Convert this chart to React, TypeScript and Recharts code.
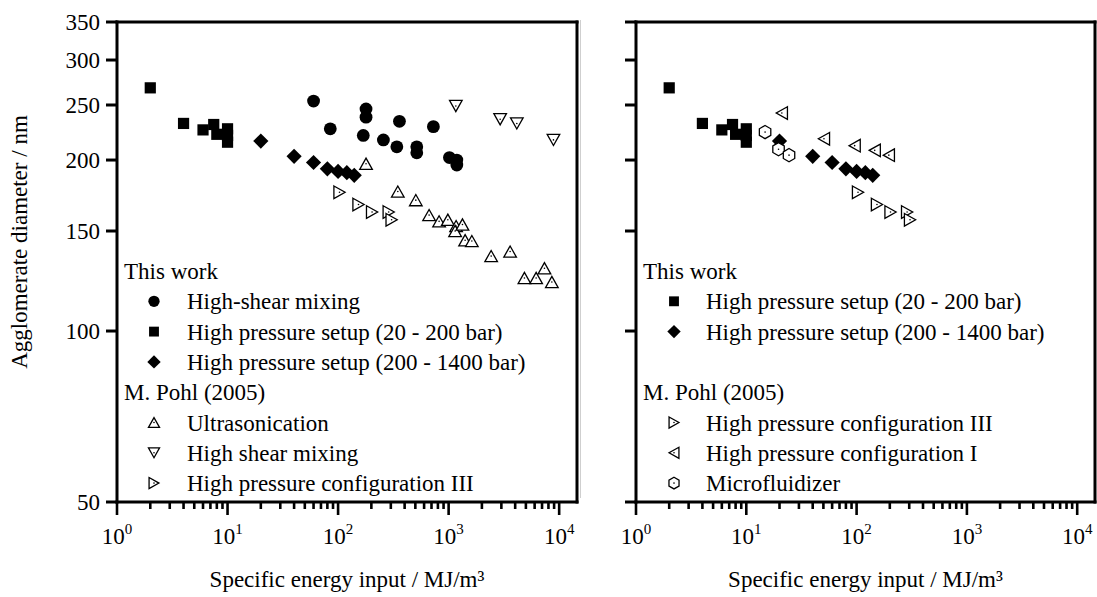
import React from 'react';
import { ScatterChart, Scatter, XAxis, YAxis, Legend, ReferenceLine } from 'recharts';

const FONT = 'Liberation Serif, Tinos, DejaVu Serif, serif';
const textStyle = { fontFamily: FONT };

// ---------------- Data ----------------
// This work
const shearMixX = [60, 85, 179, 179, 169, 257, 359, 340, 515, 515, 728, 1017, 1186, 1186];
const shearMixY = [254, 227, 246, 238, 221, 217, 234, 211, 211, 206, 229, 202, 200, 196];
const hpLowX = [2, 4, 6, 7.5, 8, 10, 10, 10];
const hpLowY = [268, 232, 226, 231, 222, 227, 221, 215];
const hpHighX = [20, 40, 60, 80, 100, 120, 140];
const hpHighY = [216, 203, 198, 193, 191, 190, 188];
// M. Pohl (2005)
const ultraX = [179, 347, 505, 666, 820, 984, 1169, 1145, 1334, 1410, 1622, 2425, 3600, 4850, 6190, 7360, 8590];
const ultraY = [197, 176, 170, 160, 156, 157, 153, 150, 154, 144.5, 144, 135.5, 138, 124, 124, 129, 122];
const pohlShearX = [1162, 2925, 4140, 8880];
const pohlShearY = [249, 236, 232, 217];
const conf3X = [103, 153, 203, 287, 305];
const conf3Y = [175.5, 167, 162, 162, 157];
const conf1X = [21, 50.6, 96, 146, 196];
const conf1Y = [242, 218, 212, 208, 204];
const microX = [14.8, 19.6, 24.4];
const microY = [224, 209, 204];

// ---------------- Axis ticks ----------------
const xTicks = [
  1, 2, 3, 4, 5, 6, 7, 8, 9,
  10, 20, 30, 40, 50, 60, 70, 80, 90,
  100, 200, 300, 400, 500, 600, 700, 800, 900,
  1000, 2000, 3000, 4000, 5000, 6000, 7000, 8000, 9000,
  10000,
];
const xMajorTicks = [1, 10, 100, 1000, 10000];
const xMajorBase = ['10', '10', '10', '10', '10'];
const xMajorExp = ['0', '1', '2', '3', '4'];
const xDomain = [1, 14500];
const yTicks = [50, 100, 150, 200, 250, 300, 350];
const yDomain = [50, 350];

// ---------------- Legend entries ----------------
const leftLegendLabels = [
  'This work',
  'High-shear mixing',
  'High pressure setup (20 - 200 bar)',
  'High pressure setup (200 - 1400 bar)',
  'M. Pohl (2005)',
  'Ultrasonication',
  'High shear mixing',
  'High pressure configuration III',
];
const leftLegendKinds = ['header', 'circle', 'square', 'diamond', 'header', 'up', 'down', 'right'];
const rightLegendLabels = [
  'This work',
  'High pressure setup (20 - 200 bar)',
  'High pressure setup (200 - 1400 bar)',
  '',
  'M. Pohl (2005)',
  'High pressure configuration III',
  'High pressure configuration I',
  'Microfluidizer',
];
const rightLegendKinds = ['header', 'square', 'diamond', 'blank', 'header', 'right', 'left', 'hex'];

const xTitle = 'Specific energy input / MJ/m\u00B3';
const yTitle = 'Agglomerate diameter / nm';

const pts = (xs: number[], ys: number[]) => xs.map((x, i) => ({ x, y: ys[i] }));

// ---------------- Markers ----------------
const Marker = ({ kind, cx, cy, s = 1 }: { kind: string; cx: number; cy: number; s?: number }) => {
  const open = { fill: '#fff', stroke: '#000', strokeWidth: 1.3, strokeLinejoin: 'miter' as const };
  const dot = <circle cx={cx} cy={cy} r={0.8} fill="#000" />;
  const a = 6.3 * s;
  const h = 5.6 * s;
  switch (kind) {
    case 'circle':
      return <circle cx={cx} cy={cy} r={6.4 * s} fill="#000" />;
    case 'square':
      return <rect x={cx - 5.6 * s} y={cy - 5.6 * s} width={11.2 * s} height={11.2 * s} fill="#000" />;
    case 'diamond': {
      const d = 7.6 * s;
      return <polygon points={`${cx},${cy - d} ${cx + d},${cy} ${cx},${cy + d} ${cx - d},${cy}`} fill="#000" />;
    }
    case 'up':
      return (
        <g>
          <polygon points={`${cx},${cy - h} ${cx + a},${cy + h} ${cx - a},${cy + h}`} {...open} />
          {dot}
        </g>
      );
    case 'down':
      return (
        <g>
          <polygon points={`${cx - a},${cy - h} ${cx + a},${cy - h} ${cx},${cy + h}`} {...open} />
          {dot}
        </g>
      );
    case 'right':
      return (
        <g>
          <polygon points={`${cx - h},${cy - a} ${cx + h},${cy} ${cx - h},${cy + a}`} {...open} />
          {dot}
        </g>
      );
    case 'left':
      return (
        <g>
          <polygon points={`${cx + h},${cy - a} ${cx - h},${cy} ${cx + h},${cy + a}`} {...open} />
          {dot}
        </g>
      );
    case 'hex': {
      const r = 6.6 * s;
      const p: string[] = [];
      for (let k = 0; k < 6; k++) {
        const ang = (Math.PI / 3) * k - Math.PI / 2;
        p.push(`${cx + r * Math.cos(ang)},${cy + r * Math.sin(ang)}`);
      }
      return (
        <g>
          <polygon points={p.join(' ')} {...open} />
          {dot}
        </g>
      );
    }
    default:
      return null;
  }
};

const shapeOf = (kind: string) => (p: any) => <Marker kind={kind} cx={p.cx} cy={p.cy} />;

// ---------------- Ticks ----------------
const XTick = (props: any) => {
  const { x, y, payload } = props;
  const v = payload?.value;
  const i = xMajorTicks.indexOf(v);
  const major = i >= 0;
  return (
    <g>
      <line x1={x} x2={x} y1={y - 1} y2={y + (major ? 13 : 7)} stroke="#000" strokeWidth={2.6} />
      {major && (
        <text x={x} y={y + 42} textAnchor="middle" style={textStyle} fontSize={23} fill="#000">
          <tspan>{xMajorBase[i]}</tspan>
          <tspan dy={-10} fontSize={15}>
            {xMajorExp[i]}
          </tspan>
        </text>
      )}
    </g>
  );
};

const makeYTick = (showLabel: boolean) => (props: any) => {
  const { x, y, payload } = props;
  return (
    <g>
      <line x1={x - 11} x2={x} y1={y} y2={y} stroke="#000" strokeWidth={3} />
      {showLabel && (
        <text x={x - 17} y={y + 8} textAnchor="end" style={textStyle} fontSize={23} fill="#000">
          {payload?.value}
        </text>
      )}
    </g>
  );
};
const YTickLabeled = makeYTick(true);
const YTickPlain = makeYTick(false);

// ---------------- Legend ----------------
const legendRow0 = 271;
const legendStep = 30.3;

const LegendBlock = ({
  labels,
  kinds,
  headerX,
  symX,
  textX,
  w,
  h,
}: {
  labels: string[];
  kinds: string[];
  headerX: number;
  symX: number;
  textX: number;
  w: number;
  h: number;
}) => (
  <svg width={w} height={h} style={{ display: 'block', overflow: 'visible' }}>
    {labels.map((lab, i) => {
      const cy = legendRow0 + i * legendStep;
      const kind = kinds[i];
      if (kind === 'blank') return null;
      if (kind === 'header')
        return (
          <text key={i} x={headerX} y={cy + 8} style={textStyle} fontSize={23} fill="#000">
            {lab}
          </text>
        );
      return (
        <g key={i}>
          <Marker kind={kind} cx={symX} cy={cy} s={0.88} />
          <text x={textX} y={cy + 8} style={textStyle} fontSize={23} fill="#000">
            {lab}
          </text>
        </g>
      );
    })}
  </svg>
);

const frame = { stroke: '#000', strokeWidth: 3, strokeLinecap: 'square' as const };

// ---------------- Panel ----------------
const Panel = ({
  width,
  yAxisWidth,
  marginRight,
  showYLabels,
  children,
  legend,
  xTitleX,
}: {
  width: number;
  yAxisWidth: number;
  marginRight: number;
  showYLabels: boolean;
  children: React.ReactNode;
  legend: React.ReactNode;
  xTitleX: number;
}) => (
  <ScatterChart width={width} height={597} margin={{ top: 22, right: marginRight, bottom: 0, left: 0 }}>
    <XAxis
      xAxisId={0}
      dataKey="x"
      type="number"
      scale="log"
      domain={xDomain}
      allowDataOverflow
      ticks={xTicks}
      interval={0}
      tick={XTick}
      tickLine={false}
      tickSize={0}
      tickMargin={0}
      height={95}
      axisLine={false}
      label={() => (
        <text x={xTitleX} y={587} textAnchor="middle" style={textStyle} fontSize={23} fill="#000">
          {xTitle}
        </text>
      )}
    />
    <YAxis
      yAxisId={0}
      dataKey="y"
      type="number"
      scale="log"
      domain={yDomain}
      allowDataOverflow
      ticks={yTicks}
      interval={0}
      tick={showYLabels ? YTickLabeled : YTickPlain}
      tickLine={false}
      tickSize={0}
      tickMargin={0}
      width={yAxisWidth}
      axisLine={false}
      label={
        showYLabels
          ? () => (
              <text
                transform="translate(19,242) rotate(-90)"
                textAnchor="middle"
                dominantBaseline="central"
                style={textStyle}
                fontSize={23}
                fill="#000"
              >
                {yTitle}
              </text>
            )
          : undefined
      }
    />
    <ReferenceLine x={xDomain[0]} {...frame} />
    <ReferenceLine x={xDomain[1]} {...frame} />
    <ReferenceLine y={yDomain[0]} {...frame} />
    <ReferenceLine y={yDomain[1]} {...frame} />
    {children}
    {legend}
  </ScatterChart>
);

export default function App() {
  return (
    <div
      style={{
        position: 'absolute',
        left: 0,
        top: 0,
        width: 1097,
        height: 597,
        background: '#fff',
        overflow: 'hidden',
        fontFamily: FONT,
      }}
    >
      <div style={{ position: 'absolute', left: 0, top: 0 }}>
        <Panel
          width={580}
          yAxisWidth={117}
          marginRight={3}
          showYLabels
          xTitleX={347}
          legend={
            <Legend
              layout="vertical"
              align="center"
              verticalAlign="middle"
              wrapperStyle={{ position: 'absolute', left: 0, top: 0, width: 580, height: 597, pointerEvents: 'none' }}
              content={() => (
                <LegendBlock
                  labels={leftLegendLabels}
                  kinds={leftLegendKinds}
                  headerX={124}
                  symX={154}
                  textX={187}
                  w={580}
                  h={597}
                />
              )}
            />
          }
        >
          <Scatter name="hpLow" data={pts(hpLowX, hpLowY)} shape={shapeOf('square')} isAnimationActive={false} />
          <Scatter name="hpHigh" data={pts(hpHighX, hpHighY)} shape={shapeOf('diamond')} isAnimationActive={false} />
          <Scatter name="shearMix" data={pts(shearMixX, shearMixY)} shape={shapeOf('circle')} isAnimationActive={false} />
          <Scatter name="ultra" data={pts(ultraX, ultraY)} shape={shapeOf('up')} isAnimationActive={false} />
          <Scatter name="pohlShear" data={pts(pohlShearX, pohlShearY)} shape={shapeOf('down')} isAnimationActive={false} />
          <Scatter name="conf3" data={pts(conf3X, conf3Y)} shape={shapeOf('right')} isAnimationActive={false} />
        </Panel>
      </div>
      <div style={{ position: 'absolute', left: 580, top: 20, width: 1, height: 478, background: '#cfcfcf' }} />
      <div style={{ position: 'absolute', left: 580, top: 0 }}>
        <Panel
          width={517}
          yAxisWidth={56}
          marginRight={2}
          showYLabels={false}
          xTitleX={285.5}
          legend={
            <Legend
              layout="vertical"
              align="center"
              verticalAlign="middle"
              wrapperStyle={{ position: 'absolute', left: 0, top: 0, width: 517, height: 597, pointerEvents: 'none' }}
              content={() => (
                <LegendBlock
                  labels={rightLegendLabels}
                  kinds={rightLegendKinds}
                  headerX={63}
                  symX={94}
                  textX={126}
                  w={517}
                  h={597}
                />
              )}
            />
          }
        >
          <Scatter name="hpLow" data={pts(hpLowX, hpLowY)} shape={shapeOf('square')} isAnimationActive={false} />
          <Scatter name="hpHigh" data={pts(hpHighX, hpHighY)} shape={shapeOf('diamond')} isAnimationActive={false} />
          <Scatter name="conf3" data={pts(conf3X, conf3Y)} shape={shapeOf('right')} isAnimationActive={false} />
          <Scatter name="conf1" data={pts(conf1X, conf1Y)} shape={shapeOf('left')} isAnimationActive={false} />
          <Scatter name="micro" data={pts(microX, microY)} shape={shapeOf('hex')} isAnimationActive={false} />
        </Panel>
      </div>
    </div>
  );
}
